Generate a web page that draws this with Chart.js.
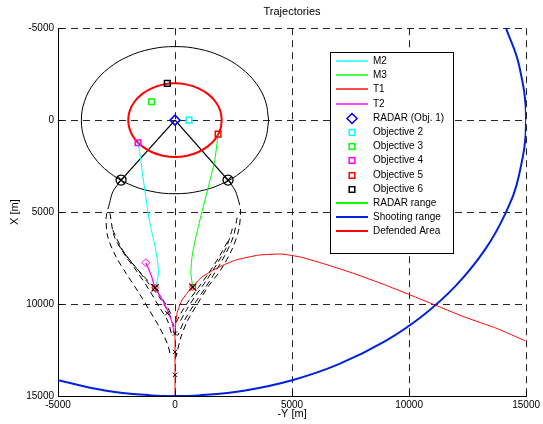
<!DOCTYPE html>
<html>
<head>
<meta charset="utf-8">
<script src="https://cdn.jsdelivr.net/npm/chart.js@4/dist/chart.umd.min.js"></script>
<style>
html,body{margin:0;padding:0;background:#fff;}
canvas{display:block;}
</style>
</head>
<body>
<canvas id="c" width="543" height="424"></canvas>
<script>
// ---------- data (x = -Y [m], y = X [m]) ----------
const xTickValues = [-5000, 0, 5000, 10000, 15000];
const xTickLabels = ['-5000', '0', '5000', '10000', '15000'];
const yTickValues = [-5000, 0, 5000, 10000, 15000];
const yTickLabels = ['-5000', '0', '5000', '10000', '15000'];

const M2 = [[-1580,1230],[-1460,2170],[-1410,2720],[-1100,5430],[-820,7070],[-710,8150],[-750,8700],[-850,9100]];
const M3 = [[1840,760],[1700,2170],[1600,2720],[1390,3800],[1030,5600],[750,7240],[680,8330],[760,9080]];
const T1 = [[0,15000],[0,13500],[0,12000],[0,11500],[85,10500],[300,9780],[720,9080],[1150,8530],[1870,7990],[2590,7610],[3570,7340],[4540,7280],[5390,7450],[6540,7880],[7690,8360],[8960,8950],[9940,9450],[10910,9950],[12360,10700],[13760,11330],[14960,12000]];
const T2 = [[-1245,7750],[-1000,8500],[-850,9150],[-610,9600],[-330,10330],[-115,11050],[-40,11600]];
const T2start = [[-1245,7750]];

const radarObj1 = [[0,0]];
const objective2 = [[600,0]];
const objective3 = [[-1000,-1000]];
const objective4 = [[-1580,1230]];
const objective5 = [[1840,760]];
const objective6 = [[-330,-2000]];

const radarRange = [];
const shootingRange = [[-5000,14142],[-3000,14697],[-1000,14967],[0,15000],[1000,14967],[3000,14697],[5000,14142],[7000,13266],[9000,12000],[10607,10607],[12000,9000],[13266,7000],[14142,5000],[14697,3000],[15000,0],[14697,-3000],[14142,-5000]];
const defendedArea = [[2000,0],[1932,518],[1732,1000],[1414,1414],[1000,1732],[518,1932],[0,2000],[-518,1932],[-1000,1732],[-1414,1414],[-1732,1000],[-1932,518],[-2000,0],[-1932,-518],[-1732,-1000],[-1414,-1414],[-1000,-1732],[-518,-1932],[0,-2000],[518,-1932],[1000,-1732],[1414,-1414],[1732,-1000],[1932,-518],[2000,0]];
const outerCircle = [[4000,0],[3864,1035],[3464,2000],[2828,2828],[2000,3464],[1035,3864],[0,4000],[-1035,3864],[-2000,3464],[-2828,2828],[-3464,2000],[-3864,1035],[-4000,0],[-3864,-1035],[-3464,-2000],[-2828,-2828],[-2000,-3464],[-1035,-3864],[0,-4000],[1035,-3864],[2000,-3464],[2828,-2828],[3464,-2000],[3864,-1035],[4000,0]];

const radarLineLeft = [[0,0],[-2305,3260]];
const radarLineRight = [[0,0],[2265,3260]];
const crossedCircles = [[-2305,3260],[2265,3260]];
const solidLeft = [[-2305,3260],[-2660,3900],[-2800,4530]];
const solidRight = [[2265,3260],[2560,3800],[2700,4300]];

const dashLeftA = [[-2800,4530],[-2940,5255],[-2875,6340],[-2520,7430],[-2090,8330],[-1530,9420],[-1100,10330],[-680,11230],[-330,12140],[-180,12860]];
const dashLeftB = [[-2780,5070],[-2590,6340],[-2090,7430],[-1670,8150],[-1100,9240],[-680,10150],[-330,10870],[-115,11780]];
const dashLeftC = [[-2660,5980],[-2240,7065],[-1810,7790],[-1245,8700],[-680,9600],[-255,10510],[-40,11230]];
const dashLeftD = [[-2400,6800],[-1950,7600],[-1400,8400],[-900,9100],[-450,9900],[-100,10700]];
const dashRightA = [[2700,4300],[2800,4890],[2720,5980],[2420,7065],[1950,8150],[1400,9080],[980,9950],[550,10870],[255,11790],[40,12880]];
const dashRightB = [[2650,5300],[2500,6300],[2150,7300],[1700,8300],[1250,9200],[800,10050],[400,10900],[120,11700]];
const dashRightC = [[2450,5900],[2200,6900],[1800,7800],[1350,8700],[900,9500],[500,10300],[150,11100]];
const dashRightD = [[2250,6600],[1900,7400],[1450,8300],[1000,9100],[600,9800],[250,10500],[50,11000]];

const interceptPoints = [[-850,9120],[760,9080]];
const smallCrosses = [[-330,10500],[0,11600],[0,12600],[0,13850]];

// ---------- build datasets ----------
const pts = a => a.map(p => ({x: p[0], y: p[1]}));
function lineDS(data, color, width, extra) {
  return Object.assign({type: 'scatter', data: pts(data), showLine: true, borderColor: color, backgroundColor: color,
    legendColor: color, legendWidth: width,
    borderWidth: width, pointRadius: 0, pointHoverRadius: 0, fill: false, tension: 0.3}, extra || {});
}
function markDS(data, style, color, radius, width, extra) {
  return Object.assign({type: 'scatter', data: pts(data), showLine: false, pointStyle: style, pointRadius: radius,
    legendColor: color, legendWidth: width,
    pointBorderColor: color, pointBackgroundColor: 'rgba(0,0,0,0)', pointBorderWidth: width, pointHoverRadius: radius}, extra || {});
}
const dashOpt = {borderDash: [6, 4], tension: 0.3};

const datasets = [
  lineDS(M2, '#00ffff', 1, {legendLabel: 'M2', legendKind: 'line', order: 2}),
  lineDS(M3, '#00ff00', 1, {legendLabel: 'M3', legendKind: 'line', order: 2}),
  lineDS(T1, '#ff0000', 1, {legendLabel: 'T1', legendKind: 'line', order: 2, tension: 0.15}),
  lineDS(T2, '#ff00ff', 1.2, {legendLabel: 'T2', legendKind: 'line', order: 2, tension: 0.2}),
  markDS(radarObj1, 'rectRot', '#0000ff', 5, 1.5, {legendLabel: 'RADAR (Obj. 1)', legendKind: 'diamond', order: 0}),
  markDS(objective2, 'rect', '#00ffff', 4, 1.5, {legendLabel: 'Objective 2', legendKind: 'square', order: 0}),
  markDS(objective3, 'rect', '#00ff00', 4, 1.5, {legendLabel: 'Objective 3', legendKind: 'square', order: 0}),
  markDS(objective4, 'rect', '#ff00ff', 4, 1.5, {legendLabel: 'Objective 4', legendKind: 'square', order: 0}),
  markDS(objective5, 'rect', '#ff0000', 4, 1.5, {legendLabel: 'Objective 5', legendKind: 'square', order: 0}),
  markDS(objective6, 'rect', '#000000', 4, 1.5, {legendLabel: 'Objective 6', legendKind: 'square', order: 0}),
  lineDS(radarRange, '#00ff00', 2, {legendLabel: 'RADAR range', legendKind: 'line'}),
  lineDS(shootingRange, '#0022dd', 2, {legendLabel: 'Shooting range', legendKind: 'line', order: 1, tension: 0.4}),
  lineDS(defendedArea, '#ff0000', 2, {legendLabel: 'Defended Area', legendKind: 'line', order: 3, tension: 0.4}),
  lineDS(outerCircle, '#000000', 1, {order: 4, tension: 0.4}),
  lineDS(radarLineLeft, '#000000', 1.3, {order: 4, tension: 0}),
  lineDS(radarLineRight, '#000000', 1.3, {order: 4, tension: 0}),
  lineDS(solidLeft, '#000000', 1, {order: 4}),
  lineDS(solidRight, '#000000', 1, {order: 4}),
  lineDS(dashLeftA, '#000000', 1, Object.assign({order: 4}, dashOpt)),
  lineDS(dashLeftB, '#000000', 1, Object.assign({order: 4}, dashOpt)),
  lineDS(dashLeftC, '#000000', 1, Object.assign({order: 4}, dashOpt)),
  lineDS(dashLeftD, '#000000', 1, Object.assign({order: 4}, dashOpt)),
  lineDS(dashRightA, '#000000', 1, Object.assign({order: 4}, dashOpt)),
  lineDS(dashRightB, '#000000', 1, Object.assign({order: 4}, dashOpt)),
  lineDS(dashRightC, '#000000', 1, Object.assign({order: 4}, dashOpt)),
  lineDS(dashRightD, '#000000', 1, Object.assign({order: 4}, dashOpt)),
  markDS(crossedCircles, 'circle', '#000000', 5, 1.3, {order: 0}),
  markDS(crossedCircles, 'crossRot', '#000000', 5, 1.3, {order: 0}),
  markDS(interceptPoints, 'circle', '#ff0000', 3, 1, {order: 0}),
  markDS(interceptPoints, 'crossRot', '#000000', 5, 1.3, {order: 0}),
  markDS(smallCrosses, 'crossRot', '#000000', 3, 1, {order: 0}),
  markDS(T2start, 'rectRot', '#ff00ff', 4, 1, {order: 0})
];

// ---------- plugins ----------
const innerTicks = {
  id: 'innerTicks',
  afterDraw(chart) {
    const ctx = chart.ctx, a = chart.chartArea;
    const xs = chart.scales.x, ys = chart.scales.y;
    ctx.save();
    ctx.strokeStyle = '#000'; ctx.lineWidth = 1;
    ctx.beginPath();
    xTickValues.forEach(v => { const p = Math.round(xs.getPixelForValue(v)) + 0.5; ctx.moveTo(p, a.bottom); ctx.lineTo(p, a.bottom - 5); });
    yTickValues.forEach(v => { const p = Math.round(ys.getPixelForValue(v)) + 0.5; ctx.moveTo(a.left, p); ctx.lineTo(a.left + 5, p); });
    ctx.stroke();
    ctx.restore();
  }
};

const matLegend = {
  id: 'matLegend',
  afterDraw(chart) {
    const ctx = chart.ctx, a = chart.chartArea;
    const x0 = Math.round(a.right - 196), y0 = Math.round(a.top + 24), w = 123, h = 201;
    ctx.save();
    ctx.setLineDash([]);
    ctx.fillStyle = '#fff';
    ctx.fillRect(x0, y0, w, h);
    ctx.strokeStyle = '#000'; ctx.lineWidth = 1;
    ctx.strokeRect(x0 + 0.5, y0 + 0.5, w, h);
    const items = chart.data.datasets.filter(d => d.legendLabel);
    ctx.font = '10px "Liberation Sans", Arial, sans-serif';
    ctx.textBaseline = 'middle'; ctx.textAlign = 'left';
    items.forEach((d, i) => {
      const yc = Math.round(y0 + 9 + i * 14.2);
      const col = d.legendColor;
      if (d.legendKind === 'line') {
        ctx.strokeStyle = col;
        ctx.lineWidth = d.legendWidth >= 2 ? 2 : 1.4;
        ctx.beginPath(); ctx.moveTo(x0 + 6, yc); ctx.lineTo(x0 + 38, yc); ctx.stroke();
      } else if (d.legendKind === 'diamond') {
        const cx = x0 + 22, r = 5, y = yc + 0.5;
        ctx.strokeStyle = col; ctx.lineWidth = 1.5;
        ctx.beginPath(); ctx.moveTo(cx - r, y); ctx.lineTo(cx, y - r); ctx.lineTo(cx + r, y); ctx.lineTo(cx, y + r); ctx.closePath(); ctx.stroke();
      } else {
        const cx = x0 + 22, s = 2.8, y = yc + 0.5;
        ctx.strokeStyle = col; ctx.lineWidth = 1.5;
        ctx.strokeRect(cx - s, y - s, 2 * s, 2 * s);
      }
      ctx.fillStyle = '#000';
      ctx.fillText(d.legendLabel, x0 + 43, yc + 0.5);
    });
    ctx.restore();
  }
};

// ---------- chart ----------
const tickFont = {family: '"Liberation Sans", Arial, sans-serif', size: 10};
new Chart(document.getElementById('c'), {
  type: 'scatter',
  data: {datasets: datasets},
  options: {
    responsive: false,
    animation: false,
    devicePixelRatio: 1,
    layout: {padding: {left: 0, right: 14, top: 0, bottom: 0}},
    plugins: {
      legend: {display: false},
      tooltip: {enabled: false},
      title: {display: true, text: 'Trajectories', fullSize: false, color: '#000',
        font: {family: '"Liberation Sans", Arial, sans-serif', size: 11, weight: 'normal'},
        padding: {top: 5, bottom: 10}}
    },
    scales: {
      x: {
        type: 'linear', position: 'bottom', min: -5000, max: 15000,
        afterFit: s => { s.height = 28; },
        afterBuildTicks: s => { s.ticks = xTickValues.map(v => ({value: v})); },
        ticks: {color: '#000', font: tickFont, padding: 3, maxRotation: 0,
          callback: (v) => xTickLabels[xTickValues.indexOf(v)]},
        grid: {color: 'rgba(0,0,0,0.85)', lineWidth: 1, drawTicks: false, borderDash: [7, 5]},
        border: {display: true, color: '#000', width: 1, dash: [7, 5]},
        title: {display: true, text: '-Y [m]', color: '#000', font: {family: '"Liberation Sans", Arial, sans-serif', size: 11}, padding: {top: 0, bottom: 3}}
      },
      y: {
        type: 'linear', position: 'left', reverse: true, min: -5000, max: 15000,
        afterFit: s => { s.width = 58; },
        afterBuildTicks: s => { s.ticks = yTickValues.map(v => ({value: v})); },
        ticks: {color: '#000', font: tickFont, padding: 4,
          callback: (v) => yTickLabels[yTickValues.indexOf(v)]},
        grid: {color: 'rgba(0,0,0,0.85)', lineWidth: 1, drawTicks: false, borderDash: [7, 5]},
        border: {display: true, color: '#000', width: 1, dash: [7, 5]},
        title: {display: true, text: 'X [m]', color: '#000', font: {family: '"Liberation Sans", Arial, sans-serif', size: 11}, padding: {top: 8, bottom: 0}}
      }
    }
  },
  plugins: [innerTicks, matLegend]
});
</script>
</body>
</html>
